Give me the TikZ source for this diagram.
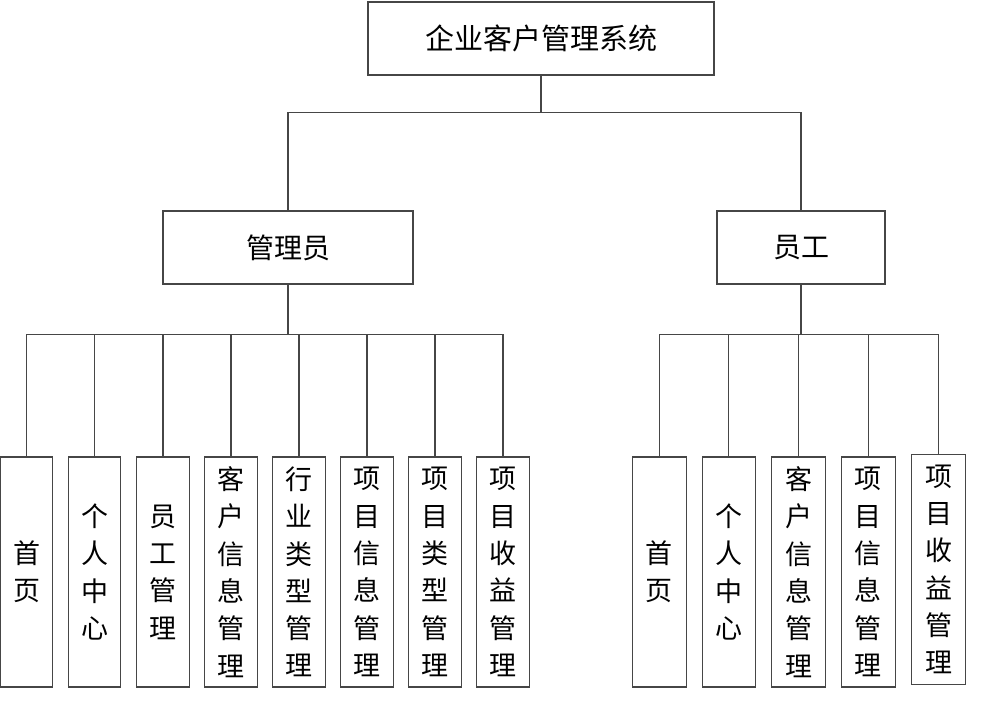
\documentclass[tikz,border=0pt]{standalone}
\usepackage{fontspec}
\setmainfont{Noto Sans CJK SC}
\definecolor{linec}{RGB}{70,70,70}
\tikzset{
  box/.style={draw=linec, line width=1.1pt, fill=white, inner sep=0pt, align=center},
  topbox/.style={box, minimum height=73pt, font=\fontsize{29}{34}\selectfont},
  leaf/.style={box, minimum width=52.5pt, minimum height=230pt, font=\fontsize{27}{37.3}\selectfont},
  conn/.style={draw=linec, line width=1.1pt}
}
\begin{document}
\begin{tikzpicture}[x=1pt,y=-1pt]
\useasboundingbox (0,0) rectangle (1002,702);
\fill[white] (0,0) rectangle (1002,702);
\node[topbox, minimum width=346pt] (root) at (541,38.5) {企业客户管理系统};
\node[topbox, minimum width=250pt, font=\fontsize{28}{34}\selectfont] (admin) at (288,247.5) {管理员};
\node[topbox, minimum width=168pt, font=\fontsize{28}{34}\selectfont] (staff) at (801,247.5) {员工};
% admin children
\node[leaf] (a1) at (26.5,572) {首\\页};
\node[leaf] (a2) at (94.5,572) {个\\人\\中\\心};
\node[leaf] (a3) at (163,572) {员\\工\\管\\理};
\node[leaf] (a4) at (231,572) {客\\户\\信\\息\\管\\理};
\node[leaf] (a5) at (299,572) {行\\业\\类\\型\\管\\理};
\node[leaf] (a6) at (367,572) {项\\目\\信\\息\\管\\理};
\node[leaf] (a7) at (435,572) {项\\目\\类\\型\\管\\理};
\node[leaf] (a8) at (503,572) {项\\目\\收\\益\\管\\理};
% staff children
\node[leaf, minimum width=53.5pt] (s1) at (659.3,572) {首\\页};
\node[leaf, minimum width=53.5pt] (s2) at (728.8,572) {个\\人\\中\\心};
\node[leaf, minimum width=53.5pt] (s3) at (798.5,572) {客\\户\\信\\息\\管\\理};
\node[leaf, minimum width=53.5pt] (s4) at (868.3,572) {项\\目\\信\\息\\管\\理};
\node[leaf, minimum width=54pt, minimum height=229.5pt] (s5) at (938.7,569.5) {项\\目\\收\\益\\管\\理};
% connectors
\draw[conn] (root.south) -- ++(0,37) -| (admin.north);
\draw[conn] (root.south) -- ++(0,37) -| (staff.north);
\foreach \n in {a1,a2,a3,a4,a5,a6,a7,a8}
  \draw[conn] (admin.south) -- ++(0,50) -| (\n.north);
\foreach \n in {s1,s2,s3,s4,s5}
  \draw[conn] (staff.south) -- ++(0,50) -| (\n.north);
\end{tikzpicture}
\end{document}
